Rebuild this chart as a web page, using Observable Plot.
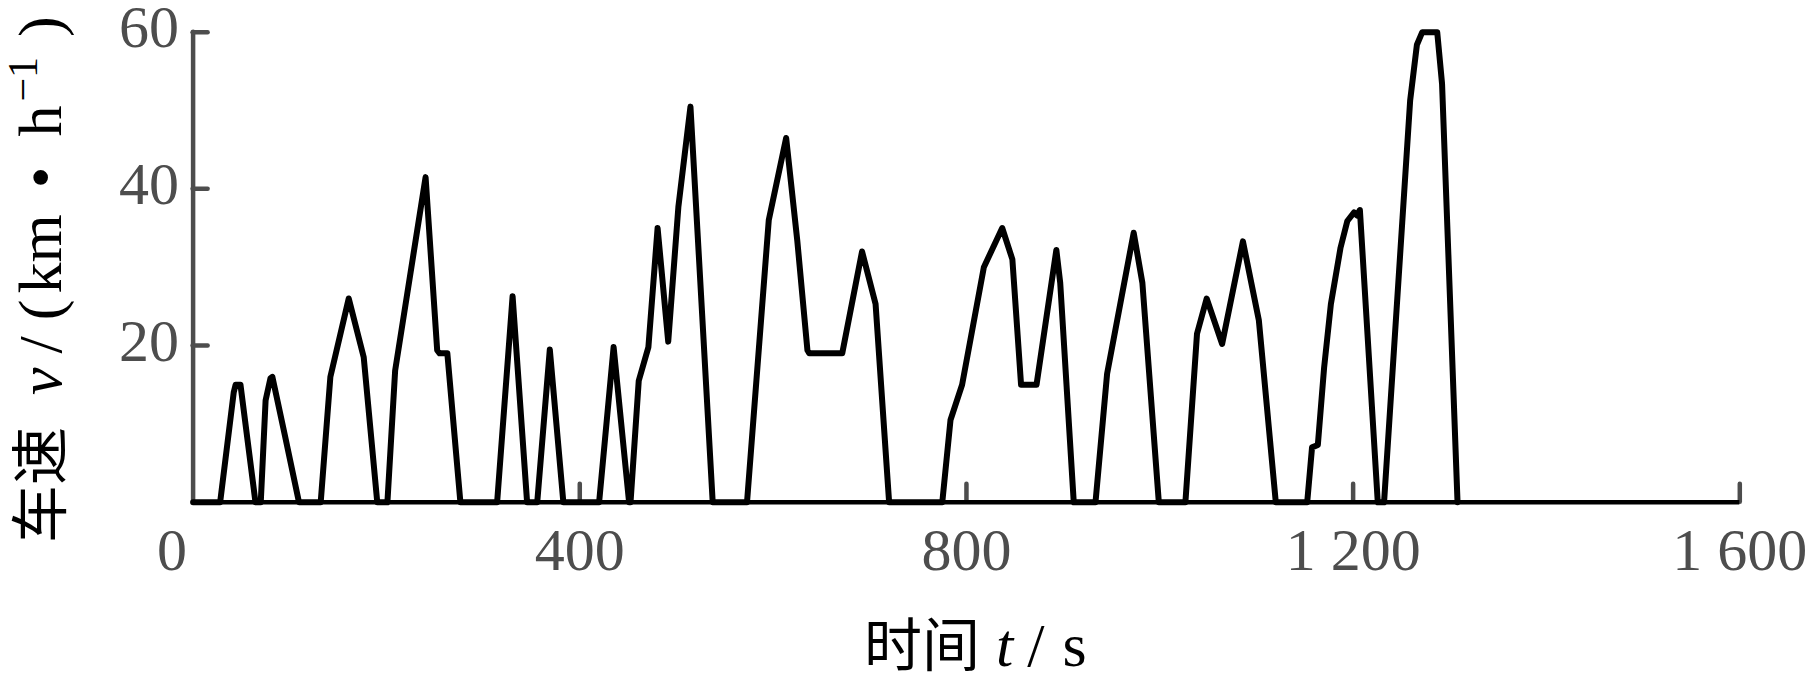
<!DOCTYPE html>
<html>
<head>
<meta charset="utf-8">
<script src="https://cdn.jsdelivr.net/npm/d3@7"></script>
<script src="https://cdn.jsdelivr.net/npm/@observablehq/plot@0.6"></script>
<style>
  html, body { margin: 0; padding: 0; background: #fff; }
  #chart svg { display: block; }
</style>
</head>
<body>
<div id="chart"></div>
<script>
// ---- data (time in s, speed in km/h) ----
const time = [
  0, 28, 42, 44, 49, 64.5,
  70, 75, 80, 82, 95, 109.5,
  132, 142, 161, 176.5, 190.5,
  201, 209, 240.5, 252.5, 255, 263, 276.5,
  314.5, 330.5, 345.5,
  356, 369, 383,
  420, 435, 451,
  452.5, 461, 471, 480.5, 491.5, 502, 514.5, 537.5,
  573, 595.5, 613.5, 625, 635.5, 637.5, 671.5, 692, 706, 720,
  775, 783.5, 795.5, 818, 837, 847.5, 856.5, 872.5, 893, 897, 911,
  933.5, 945.5, 973, 982, 999,
  1026.5, 1038.5, 1048.5, 1064.5, 1086, 1102.5, 1120,
  1152.5, 1157.5, 1163.5, 1170, 1177, 1187, 1194, 1201, 1204, 1207, 1225.5,
  1232, 1259, 1266, 1271.5, 1287, 1292, 1308
];
const speed = [
  0, 0, 14, 15, 15, 0,
  0, 13, 15.8, 16, 8.5, 0,
  0, 16, 26, 18.5, 0,
  0, 16.8, 41.5, 19.4, 19, 19, 0,
  0, 26.3, 0,
  0, 19.5, 0,
  0, 19.8, 0,
  0, 15.5, 19.8, 35, 20.5, 37.7, 50.5, 0,
  0, 36, 46.5, 33.4, 19.4, 19, 19, 32, 25.3, 0,
  0, 10.5, 15, 30, 35, 31, 15, 15, 32.2, 28, 0,
  0, 16.4, 34.4, 28, 0,
  0, 21.5, 26, 20.2, 33.3, 23.2, 0,
  0, 7, 7.3, 17.2, 25.3, 32.5, 35.9, 37, 36.6, 37.3, 0,
  0, 51.3, 58.4, 60, 60, 53.4, 0
];
const xTicks = [0, 400, 800, 1200, 1600];
const xTickLabels = ["0", "400", "800", "1 200", "1 600"];
const yTicks = [20, 40, 60];
const yTickLabels = ["20", "40", "60"];
const yTitleParts = ["车速", "v", "/", "(", "km", "•", "h", "−1", ")"];
const xTitleParts = ["时间", "t", "/", "s"];

// ---- build ----
const data = time.map((t, i) => ({t, v: speed[i]}));
const fmtX = d => xTickLabels[xTicks.indexOf(d)];
const fmtY = d => yTickLabels[yTicks.indexOf(d)];
const serif = "'Liberation Serif', 'Times New Roman', serif";
const cjk = "'Noto Sans CJK SC', 'Noto Sans', sans-serif";
const gray = "#4d4d4d";

const chart = Plot.plot({
  width: 1819,
  height: 679,
  marginLeft: 192.6,
  marginRight: 79.7,
  marginTop: 31.7,
  marginBottom: 177.3,
  style: {fontFamily: serif, background: "#fff", overflow: "visible"},
  x: {domain: [0, 1600]},
  y: {domain: [0, 60]},
  marks: [
    Plot.ruleX([0], {y1: 0, y2: 60, stroke: gray, strokeWidth: 4.5, strokeLinecap: "round"}),
    Plot.axisY(yTicks, {tickSize: -15, fill: "none", stroke: gray, strokeWidth: 4.5, strokeLinecap: "round", label: null}),
    Plot.axisY(yTicks, {tickSize: 0, tickPadding: 14, dy: -4, fill: gray, fontSize: 60, tickFormat: fmtY, label: null}),
    Plot.axisX(xTicks.slice(1), {tickSize: -18, fill: "none", stroke: gray, strokeWidth: 4.5, strokeLinecap: "round", label: null}),
    Plot.axisX(xTicks.slice(1), {tickSize: 0, tickPadding: 25, fill: gray, fontSize: 60, tickFormat: fmtX, label: null}),
    Plot.axisX(xTicks.slice(0, 1), {tickSize: 0, tickPadding: 25, dx: -21, fill: gray, fontSize: 60, tickFormat: fmtX, label: null}),
    Plot.ruleY([0], {x1: 0, x2: 1600, stroke: "#000", strokeWidth: 4.5}),
    Plot.line(data, {x: "t", y: "v", stroke: "#000", strokeWidth: 6, strokeLinejoin: "round", strokeLinecap: "round"})
  ]
});
document.getElementById("chart").append(chart);

// ---- axis titles (mixed fonts / italic / superscript) ----
const svg = d3.select(chart);
const yt = svg.append("text")
  .attr("transform", "translate(61,543) rotate(-90)")
  .attr("text-anchor", "start")
  .attr("font-size", 62)
  .attr("font-family", serif)
  .attr("fill", "#000");
yt.append("tspan").attr("font-family", cjk).attr("font-size", 58).text(yTitleParts[0]);
yt.append("tspan").attr("dx", 32).attr("font-style", "italic").text(yTitleParts[1]);
yt.append("tspan").attr("dx", 14).text(yTitleParts[2]);
yt.append("tspan").attr("dx", 16).text(yTitleParts[3]);
yt.append("tspan").attr("dx", 6).text(yTitleParts[4]);
yt.append("tspan").attr("dx", 26).text(yTitleParts[5]);
yt.append("tspan").attr("dx", 30).text(yTitleParts[6]);
yt.append("tspan").attr("dx", 4).attr("dy", -24).attr("font-size", 42).text(yTitleParts[7]);
yt.append("tspan").attr("dx", 20).attr("dy", 24).text(yTitleParts[8]);

const xs = chart.scale("x");
const xt = svg.append("text")
  .attr("x", xs.apply(800) - 102)
  .attr("y", 666)
  .attr("text-anchor", "start")
  .attr("font-size", 62)
  .attr("font-family", serif)
  .attr("fill", "#000");
xt.append("tspan").attr("font-family", cjk).attr("font-size", 58).text(xTitleParts[0]);
xt.append("tspan").attr("dx", 16).attr("font-style", "italic").text(xTitleParts[1]);
xt.append("tspan").attr("dx", 14).text(xTitleParts[2]);
xt.append("tspan").attr("dx", 18).text(xTitleParts[3]);
</script>
</body>
</html>
